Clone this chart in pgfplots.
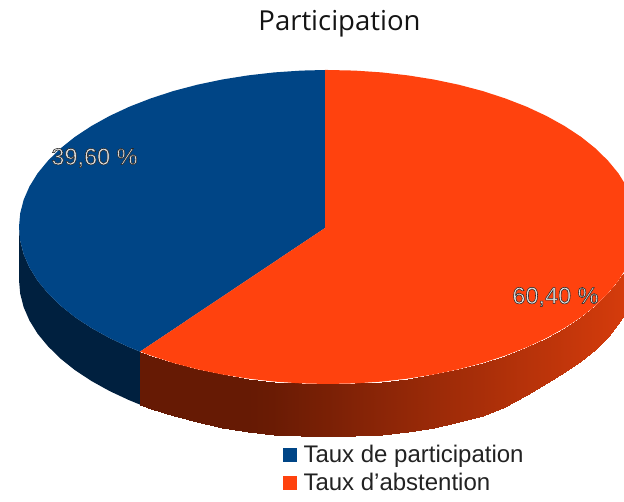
\documentclass[border=0pt]{standalone}
\usepackage{fontspec}
\setmainfont{Liberation Sans}
\newfontfamily\titlefont{Open Sans}
\usepackage{pgfplots}
\pgfplotsset{compat=1.18}
\definecolor{pblue}{HTML}{004586}
\definecolor{pred}{HTML}{FF420E}
\definecolor{pblueside}{HTML}{00203F}
\definecolor{ltext}{HTML}{222222}
\newcommand{\outl}[1]{\special{pdf:code q 2 Tr 0.55 w 0.15 0.15 0.15 RG 0.88 0.88 0.88 rg}#1\special{pdf:code Q}}
\begin{document}
\begin{tikzpicture}
\path[use as bounding box] (0,0) rectangle (624pt,502pt);
\begin{axis}[
  at={(0,0)},anchor=south west,
  x=1pt,y=1pt,
  xmin=0,xmax=624,ymin=0,ymax=502,
  y dir=reverse,
  hide axis,
  clip=true,
  colormap={redside}{rgb255(0cm)=(102,26,4) rgb255(1cm)=(214,60,12)},
  legend style={draw=none,fill=none,at={(axis cs:283,443.5)},anchor=north west,
    font=\fontsize{24}{26}\selectfont,text=ltext,
    row sep=5pt,inner sep=0pt,outer sep=0pt,
    /tikz/every odd column/.append style={column sep=4.5pt}},
  legend cell align=left,
  legend image code/.code={\fill[#1,draw=none] (0pt,-7pt) rectangle (14pt,7pt);},
]
% blue side
\addplot[fill=pblueside,draw=none,forget plot] coordinates {
(19,227)(20.2,240.7)(23.7,254.3)(29.5,267.6)(37.6,280.7)(48,293.3)(60.4,305.5)(74.9,317.1)(91.3,327.9)(109.5,338)(129.4,347.3)(140.1,351.6)
(140.1,404.6)(129.4,400.3)(109.5,391)(91.3,380.9)(74.9,370.1)(60.4,358.5)(48,346.3)(37.6,333.7)(29.5,320.6)(23.7,307.3)(20.2,293.7)(19,280)
} -- cycle;
% red side
\addplot[surf,shader=interp,mesh/rows=2,forget plot,point meta=explicit] table[meta=c] {
x y c
140.1 351.6 0
150.8 355.6 0
173.5 363 0
197.4 369.3 0
222.3 374.5 0
248 378.6 0
274.4 381.6 0.04
301.1 383.4 0.11
328 384 0.18
354.9 383.4 0.26
381.6 381.6 0.33
408 378.6 0.40
433.7 374.5 0.47
458.6 369.3 0.54
482.5 363 0.60
505.2 355.6 0.66
526.6 347.3 0.72
546.5 338 0.77
564.7 327.9 0.82
581.1 317.1 0.87
595.6 305.5 0.91
608 293.3 0.94
618.4 280.7 0.97
626.5 267.6 1
140.1 404.6 0
150.8 408.6 0
173.5 416 0
197.4 422.3 0
222.3 427.5 0
248 431.6 0
274.4 434.6 0.04
301.1 436.4 0.11
328 437 0.18
354.9 436.4 0.26
381.6 434.6 0.33
408 431.6 0.40
433.7 427.5 0.47
458.6 422.5 0.54
482.5 416 0.60
505.2 406.5 0.66
526.6 395 0.72
546.5 383 0.77
564.7 372.5 0.82
581.1 361 0.87
595.6 349 0.91
608 337 0.94
618.4 324 0.97
626.5 311 1
};
% blue top: 39.60 %
\addplot[fill=pblue,draw=none] coordinates {
(325,228)(325,70)(301.1,70.6)(274.4,72.4)(248,75.4)(222.3,79.5)(197.4,84.7)(173.5,91)(150.8,98.4)(129.4,106.7)(109.5,116)(91.3,126.1)(74.9,136.9)(60.4,148.5)(48,160.7)(37.6,173.3)(29.5,186.4)(23.7,199.7)(20.2,213.3)(19,227)(20.2,240.7)(23.7,254.3)(29.5,267.6)(37.6,280.7)(48,293.3)(60.4,305.5)(74.9,317.1)(91.3,327.9)(109.5,338)(129.4,347.3)(140.1,351.6)
} -- cycle;
\addlegendentry{Taux de participation}
% red top: 60.40 %
\addplot[fill=pred,draw=none] coordinates {
(325,228)(325,70)(328,70)(354.9,70.6)(381.6,72.4)(408,75.4)(433.7,79.5)(458.6,84.7)(482.5,91)(505.2,98.4)(526.6,106.7)(546.5,116)(564.7,126.1)(581.1,136.9)(595.6,148.5)(608,160.7)(618.4,173.3)(626.5,186.4)(632.3,199.7)(635.8,213.3)(637,227)(635.8,240.7)(632.3,254.3)(626.5,267.6)(618.4,280.7)(608,293.3)(595.6,305.5)(581.1,317.1)(564.7,327.9)(546.5,338)(526.6,347.3)(505.2,355.6)(482.5,363)(458.6,369.3)(433.7,374.5)(408,378.6)(381.6,381.6)(354.9,383.4)(328,384)(301.1,383.4)(274.4,381.6)(248,378.6)(222.3,374.5)(197.4,369.3)(173.5,363)(150.8,355.6)(140.1,351.6)
} -- cycle;
\addlegendentry{Taux d’abstention}
\node[anchor=center,font=\titlefont\fontsize{27.5}{29}\selectfont,text=black!92] at (axis cs:339.5,24) {Participation};
\node[anchor=center,font=\fontsize{23.5}{25}\selectfont,inner sep=0pt] at (axis cs:94.5,158) {\outl{39,60 \%}};
\node[anchor=center,font=\fontsize{23.5}{25}\selectfont,inner sep=0pt] at (axis cs:555.5,297) {\outl{60,40 \%}};
\end{axis}
\end{tikzpicture}
\end{document}
